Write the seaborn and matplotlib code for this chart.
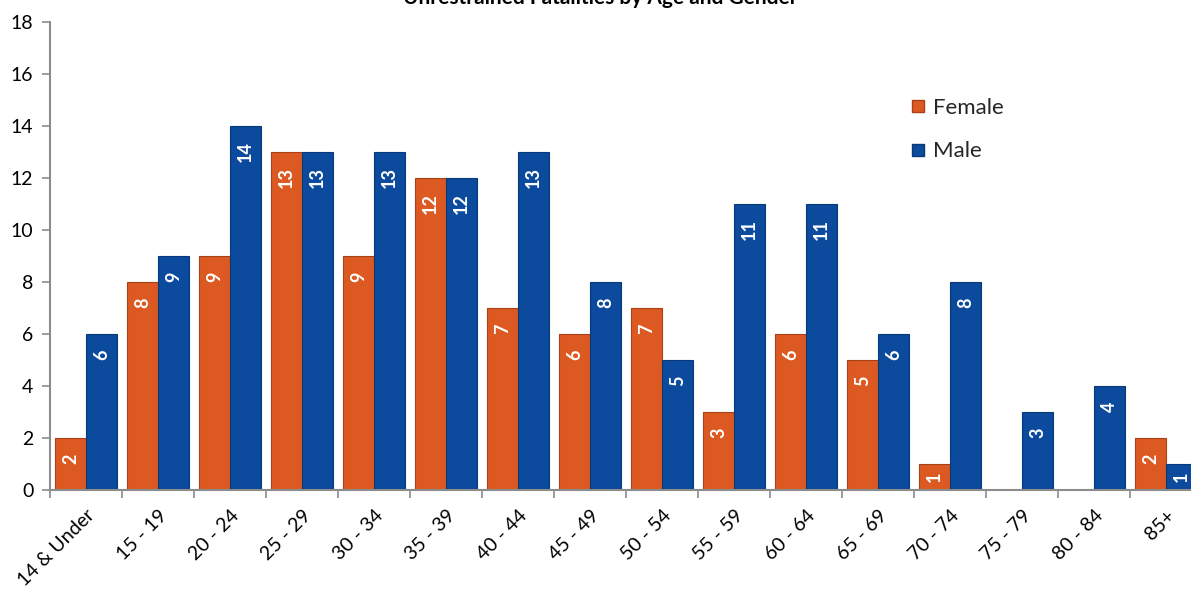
import matplotlib
matplotlib.use("Agg")
import matplotlib.pyplot as plt
import seaborn as sns
import pandas as pd
import numpy as np
from matplotlib.lines import Line2D

categories = ["14 & Under", "15 - 19", "20 - 24", "25 - 29", "30 - 34", "35 - 39",
              "40 - 44", "45 - 49", "50 - 54", "55 - 59", "60 - 64", "65 - 69",
              "70 - 74", "75 - 79", "80 - 84", "85+"]
female = [2, 8, 9, 13, 9, 12, 7, 6, 7, 3, 6, 5, 1, 0, 0, 2]
male = [6, 9, 14, 13, 13, 12, 13, 8, 5, 11, 11, 6, 8, 3, 4, 1]
series = ["Female", "Male"]
colors = {"Female": "#DC5A22", "Male": "#0B4A9C"}
edges = {"Female": "#A8401A", "Male": "#083A7A"}

df = pd.DataFrame({
    "Age": categories * 2,
    "Gender": ["Female"] * len(categories) + ["Male"] * len(categories),
    "Count": female + male,
})

sns.set_theme(style="white")
plt.rcParams["font.family"] = ["Lato", "DejaVu Sans"]

W, H = 1191, 594
fig = plt.figure(figsize=(W / 100, H / 100), dpi=100)
ax = fig.add_axes([50 / W, (H - 490) / H, (1202 - 50) / W, 468 / H])

sns.barplot(data=df, x="Age", y="Count", hue="Gender", order=categories,
            hue_order=series, palette=colors, width=0.86, gap=0,
            saturation=1, legend=False, ax=ax)

# edges and value labels
for container, name in zip(ax.containers, series):
    for bar, v in zip(container, female if name == "Female" else male):
        if v == 0:
            bar.set_visible(False)
            continue
        bar.set_edgecolor(edges[name])
        bar.set_linewidth(0.8)
        cx = bar.get_x() + bar.get_width() / 2
        top = bar.get_height()
        if v <= 1:
            ax.text(cx, top / 2, str(v), rotation=90, ha="center", va="center",
                    color="white", fontsize=13, fontweight="bold")
        else:
            ax.annotate(str(v), (cx, top), xytext=(0, -11), textcoords="offset points",
                        rotation=90, ha="center", va="top", color="white",
                        fontsize=13, fontweight="bold")

ax.set_ylim(0, 18)
ax.set_xlim(-0.5, len(categories) - 0.5)
ax.set_yticks(range(0, 19, 2))
ax.set_xlabel("")
ax.set_ylabel("")
ax.set_xticks(range(len(categories)))
ax.set_xticklabels(categories, rotation=45, ha="right", rotation_mode="anchor", fontsize=14)
ax.set_xticks(np.arange(-0.5, len(categories), 1), minor=True)
ax.tick_params(axis="x", which="major", length=0, pad=12)
ax.tick_params(axis="x", which="minor", length=6, color="#8C8C8C", width=1.2, direction="out", bottom=True)
ax.tick_params(axis="y", length=6, color="#8C8C8C", width=1.2, direction="out", left=True, labelsize=14, pad=6)
for lbl in ax.get_yticklabels() + ax.get_xticklabels():
    lbl.set_color("black")

sns.despine(ax=ax)
ax.spines["left"].set_color("#8C8C8C")
ax.spines["bottom"].set_color("#8C8C8C")
ax.spines["left"].set_linewidth(1.5)
ax.spines["bottom"].set_linewidth(1.5)

handles = [Line2D([0], [0], marker="s", linestyle="none", markersize=8,
                  markerfacecolor=colors[n], markeredgecolor=edges[n]) for n in series]
leg = ax.legend(handles, series, loc="upper left", bbox_to_anchor=(887 / W, 1 - 78 / H),
                bbox_transform=fig.transFigure, frameon=False, fontsize=16,
                labelspacing=1.05, handletextpad=0.15, handlelength=1.0)

fig.text(600 / W, 1 + 2 / H, "Unrestrained Fatalities by Age and Gender", ha="center",
         va="center", fontsize=15, fontweight="bold", color="black")

fig.savefig("out.png", dpi=100)
